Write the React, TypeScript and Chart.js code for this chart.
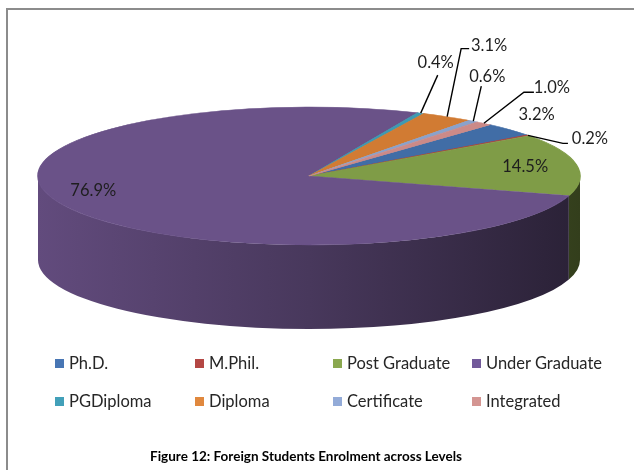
import React, { useEffect, useRef } from "react";
import { Chart, registerables } from "chart.js";

Chart.register(...registerables);

// ---- data ----
const categories = [
  "Ph.D.",
  "M.Phil.",
  "Post Graduate",
  "Under Graduate",
  "PGDiploma",
  "Diploma",
  "Certificate",
  "Integrated",
];
const shares = [3.2, 0.2, 14.5, 76.9, 0.4, 3.1, 0.6, 1.0];
const topColors = ["#416da6", "#a9403d", "#7f9c47", "#6a5288", "#3e9ab2", "#d17b33", "#8aa2cc", "#cc8a88"];
const legendColors = ["#4876b4", "#b44744", "#8aa84f", "#72599a", "#42a0b9", "#e0883e", "#93abd8", "#d49592"];
const chartTitle = "Figure 12: Foreign Students Enrolment across Levels";

// ---- label layout (offset of each value label from its slice's rim midpoint) ----
const labelDx = [27, 62, -51, 30, 15, 42, 14, 68];
const labelDy = [-15, 3, 2, -14, -50, -71, -44, -36];
// leader: null = none; [ex, ey] = straight to label+offset; [ex, ey, tx] = elbow then horizontal to tx
const leaders: (number[] | null)[] = [null, [-27, 5, -22], null, null, [2, 12], [-28, 3, -20], [-6, 9], [-28, 5, -18]];

// ---- 3D projection style ----
const RX = 271;
const RY = 69;
const DEPTH = 84;

function shade(hex: string, f: number): string {
  const n = parseInt(hex.slice(1), 16);
  const r = Math.round(((n >> 16) & 255) * f);
  const g = Math.round(((n >> 8) & 255) * f);
  const b = Math.round((n & 255) * f);
  return `rgb(${r},${g},${b})`;
}

const pie3d = {
  id: "pie3d",
  beforeDatasetsDraw(chart: any) {
    const ctx: CanvasRenderingContext2D = chart.ctx;
    const arcs = chart.getDatasetMeta(0).data;
    if (!arcs.length) return;
    const cx = arcs[0].x;
    const cy = arcs[0].y;
    const R = arcs[0].outerRadius;
    const TWO = Math.PI * 2;
    arcs.forEach((arc: any, i: number) => {
      const s = arc.startAngle;
      const e = arc.endAngle;
      for (let k = -1; k <= 1; k++) {
        const a1 = Math.max(s, TWO * k);
        const a2 = Math.min(e, Math.PI + TWO * k);
        if (a2 <= a1) continue;
        ctx.beginPath();
        ctx.ellipse(cx, cy, RX, RY, 0, a1, a2, false);
        ctx.ellipse(cx, cy + DEPTH, RX, RY, 0, a2, a1, true);
        ctx.closePath();
        const g = ctx.createLinearGradient(cx - RX, 0, cx + RX, 0);
        g.addColorStop(0, shade(topColors[i], 0.92));
        g.addColorStop(0.5, shade(topColors[i], 0.68));
        g.addColorStop(1, shade(topColors[i], 0.4));
        ctx.fillStyle = g;
        ctx.fill();
      }
    });
    ctx.save();
    ctx.translate(cx, cy);
    ctx.scale(RX / R, RY / R);
    ctx.translate(-cx, -cy);
  },
  afterDatasetsDraw(chart: any) {
    const ctx: CanvasRenderingContext2D = chart.ctx;
    const arcs = chart.getDatasetMeta(0).data;
    if (!arcs.length) return;
    ctx.restore();
    const cx = arcs[0].x;
    const cy = arcs[0].y;
    ctx.save();
    ctx.font = "16.5px Lato";
    ctx.fillStyle = "#1e1e1e";
    ctx.textAlign = "center";
    ctx.textBaseline = "middle";
    ctx.strokeStyle = "#000";
    ctx.lineWidth = 1.4;
    arcs.forEach((arc: any, i: number) => {
      const mid = (arc.startAngle + arc.endAngle) / 2;
      const rx = cx + RX * Math.cos(mid);
      const ry = cy + RY * Math.sin(mid);
      const lx = rx + labelDx[i];
      const ly = ry + labelDy[i];
      const ld = leaders[i];
      if (ld) {
        ctx.beginPath();
        ctx.moveTo(rx, ry);
        ctx.lineTo(lx + ld[0], ly + ld[1]);
        if (ld.length > 2) ctx.lineTo(lx + ld[2], ly + ld[1]);
        ctx.stroke();
      }
      ctx.fillText(`${shares[i].toFixed(1)}%`, lx, ly);
    });
    ctx.restore();
  },
};

export default function App() {
  const ref = useRef<HTMLCanvasElement | null>(null);
  useEffect(() => {
    if (!ref.current) return;
    const chart = new Chart(ref.current, {
      type: "pie",
      data: {
        labels: categories,
        datasets: [
          {
            data: shares,
            backgroundColor: topColors,
            borderColor: topColors,
            borderWidth: 1,
            clip: false as any,
          },
        ],
      },
      options: {
        responsive: false,
        animation: false,
        rotation: 42,
        layout: { padding: { left: 38, right: 54, top: 2, bottom: 120 } },
        plugins: {
          legend: { display: false },
          tooltip: { enabled: false },
          title: { display: false },
        },
      },
      plugins: [pie3d],
    });
    return () => chart.destroy();
  }, []);

  const colX = [55, 195, 333, 472];
  const rowY = [363, 401];

  return (
    <div
      style={{
        position: "absolute",
        left: 0,
        top: 0,
        width: 634,
        height: 470,
        overflow: "hidden",
        background: "#fff",
        fontFamily: "Lato, sans-serif",
      }}
    >
      <div
        style={{
          position: "absolute",
          left: 6,
          top: 8,
          width: 700,
          height: 500,
          borderLeft: "2px solid #8c8c8c",
          borderTop: "2px solid #8c8c8c",
        }}
      />
      <canvas ref={ref} width={634} height={470} style={{ position: "absolute", left: 0, top: 0 }} />
      {categories.map((c, i) => (
        <div
          key={c}
          style={{
            position: "absolute",
            left: colX[i % 4],
            top: rowY[Math.floor(i / 4)] - 11,
            height: 22,
            display: "flex",
            alignItems: "center",
            whiteSpace: "nowrap",
            fontSize: 16.5,
            color: "#262626",
          }}
        >
          <span style={{ width: 9, height: 9, background: legendColors[i], marginRight: 5, display: "inline-block" }} />
          <span>{c}</span>
        </div>
      ))}
      <div
        style={{
          position: "absolute",
          left: 0,
          width: 612,
          top: 448,
          textAlign: "center",
          fontSize: 13.5,
          fontWeight: 700,
          color: "#000",
        }}
      >
        {chartTitle}
      </div>
    </div>
  );
}
